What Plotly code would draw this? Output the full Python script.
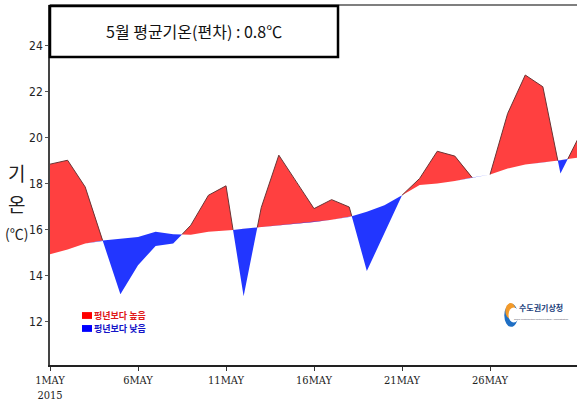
import plotly.graph_objects as go

# ---- data ----
days = list(range(1, 32))
actual = [18.84, 19.01, 17.85, 15.50, 13.19, 14.45, 15.29, 15.39, 16.19, 17.49,
          17.90, 13.10, 16.95, 19.23, 18.05, 16.91, 17.30, 16.98, 14.20, 15.88,
          17.49, 18.22, 19.40, 19.19, 18.24, 18.39, 21.04, 22.71, 22.20, 18.43, 19.95]
normal = [14.93, 15.13, 15.39, 15.53, 15.60, 15.68, 15.90, 15.80, 15.78, 15.90,
          15.95, 16.04, 16.11, 16.19, 16.26, 16.33, 16.43, 16.55, 16.77, 17.06,
          17.49, 17.93, 18.00, 18.11, 18.26, 18.39, 18.65, 18.83, 18.91, 19.01, 19.13]
tick_days = [1, 6, 11, 16, 21, 26]
tick_text = ["1MAY<br>2015", "6MAY", "11MAY", "16MAY", "21MAY", "26MAY"]
y_ticks = [12, 14, 16, 18, 20, 22, 24]
title_text = "5월 평균기온(편차) : 0.8℃"
legend_labels = ["평년보다 높음", "평년보다 낮음"]
ylabel_chars = ["기", "온", "(℃)"]
logo_text = "수도권기상청"
logo_sub = "Seoul Metropolitan Meteorological Administration"

RED = "#ff4040"
BLUE = "#2236ff"

# insert crossing points so the fills split exactly where lines cross
xs, ya, yn = [], [], []
for i in range(len(days)):
    if i > 0:
        d0 = actual[i - 1] - normal[i - 1]
        d1 = actual[i] - normal[i]
        if d0 * d1 < 0:
            t = d0 / (d0 - d1)
            xc = days[i - 1] + t * (days[i] - days[i - 1])
            yc = normal[i - 1] + t * (normal[i] - normal[i - 1])
            xs.append(xc); ya.append(yc); yn.append(yc)
    xs.append(days[i]); ya.append(actual[i]); yn.append(normal[i])

upper = [max(a, n) for a, n in zip(ya, yn)]
lower = [min(a, n) for a, n in zip(ya, yn)]
above_line = [a if a >= n - 1e-9 else None for a, n in zip(ya, yn)]

fig = go.Figure()
fig.add_trace(go.Scatter(x=xs, y=yn, mode="lines", line=dict(width=0), hoverinfo="skip"))
fig.add_trace(go.Scatter(x=xs, y=upper, mode="lines", line=dict(width=0),
                         fill="tonexty", fillcolor=RED))
fig.add_trace(go.Scatter(x=xs, y=yn, mode="lines", line=dict(width=0), hoverinfo="skip"))
fig.add_trace(go.Scatter(x=xs, y=lower, mode="lines", line=dict(width=0),
                         fill="tonexty", fillcolor=BLUE))
fig.add_trace(go.Scatter(x=xs, y=above_line, mode="lines", connectgaps=False,
                         line=dict(width=1, color="#6a3434")))

tick_font = dict(family="Liberation Sans Narrow, DejaVu Sans Condensed, Liberation Sans, sans-serif",
                 size=12, color="#222")
xtick_font = dict(family="DejaVu Serif Condensed, Liberation Serif, serif", size=11, color="#222")

fig.update_layout(
    width=577, height=408,
    margin=dict(l=50, r=0, t=5, b=43),
    paper_bgcolor="white", plot_bgcolor="white",
    showlegend=False,
    xaxis=dict(range=[1, 30.94], tickvals=tick_days, ticktext=tick_text, automargin=False,
               showgrid=False, zeroline=False, ticks="outside", ticklen=4,
               tickcolor="#333", showline=True, linecolor="#222", linewidth=2,
               tickfont=xtick_font),
    yaxis=dict(range=[10.12, 25.75], tickvals=y_ticks, showgrid=False, zeroline=False,
               automargin=False, ticks="outside", ticklen=3, tickcolor="#555", showline=True,
               linecolor="#444", linewidth=1.5, tickfont=tick_font),
)

# top border
fig.add_shape(type="line", xref="paper", yref="paper", x0=0, x1=1, y0=1, y1=1,
              line=dict(color="#555", width=1.5))

# title box
fig.add_shape(type="rect", xref="paper", yref="paper", x0=0.0, x1=0.5465, y0=0.8556, y1=0.997,
              line=dict(color="black", width=2.5), fillcolor="white")
fig.add_annotation(xref="paper", yref="paper", x=0.273, y=0.928, text=title_text,
                   showarrow=False, xanchor="center", yanchor="middle",
                   font=dict(family="Noto Sans CJK KR", size=16, color="#111"))

# legend
leg_colors = [("#ff0000", "#e01818"), ("#0000ff", "#1414c8")]
leg_y = [(0.128, 0.147), (0.092, 0.111)]
for (sq, tc), (y0, y1), lab in zip(leg_colors, leg_y, legend_labels):
    fig.add_shape(type="rect", xref="paper", yref="paper", x0=0.0607, x1=0.0797,
                  y0=y0, y1=y1, line=dict(width=0), fillcolor=sq)
    fig.add_annotation(xref="paper", yref="paper", x=0.080, y=(y0 + y1) / 2, text="<b>" + lab + "</b>",
                       showarrow=False, xanchor="left", yanchor="middle",
                       font=dict(family="Noto Sans CJK KR", size=9, color=tc))

# y axis label
for ch, yp, sz in zip(ylabel_chars, [0.535, 0.450, 0.367], [19, 19, 14]):
    fig.add_annotation(xref="paper", yref="paper", x=-0.064, y=yp, text=ch, showarrow=False,
                       xanchor="center", yanchor="middle", borderpad=0,
                       font=dict(family="Noto Sans CJK KR", size=sz, color="#222"))

# logo
fig.add_shape(type="circle", xref="paper", yref="paper", x0=0.862, x1=0.888, y0=0.106, y1=0.170,
              line=dict(width=0), fillcolor="#1f6fc4")
fig.add_shape(type="circle", xref="paper", yref="paper", x0=0.864, x1=0.884, y0=0.128, y1=0.172,
              line=dict(width=0), fillcolor="#f39a2a")
fig.add_shape(type="circle", xref="paper", yref="paper", x0=0.870, x1=0.890, y0=0.118, y1=0.160,
              line=dict(width=0), fillcolor="white")
fig.add_annotation(xref="paper", yref="paper", x=0.932, y=0.161, text="<b>" + logo_text + "</b>",
                   showarrow=False, xanchor="center", yanchor="middle",
                   font=dict(family="Noto Sans CJK KR", size=8, color="#233f7c"))
fig.add_annotation(xref="paper", yref="paper", x=0.932, y=0.127, text=logo_sub,
                   showarrow=False, xanchor="center", yanchor="middle",
                   font=dict(family="Liberation Sans", size=2.5, color="#445"))

fig.write_html("out.html", config={"displayModeBar": False},
               post_script="document.body.style.margin='0';")
